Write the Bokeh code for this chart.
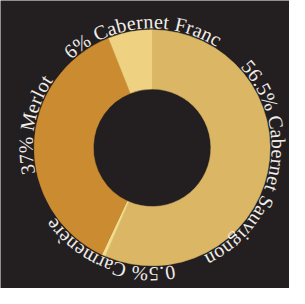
import math
from bokeh.plotting import figure
from bokeh.models import ColumnDataSource, Range1d
from bokeh.core.properties import value
from bokeh.embed import file_html
from bokeh.resources import INLINE

# ---- data ----
varieties = ["Cabernet Sauvignon", "Carmenère", "Merlot", "Cabernet Franc"]
shares = [56.5, 0.5, 37, 6]
labels = ["56.5% Cabernet Sauvignon", "0.5% Carmenère", "37% Merlot", "6% Cabernet Franc"]
colors = ["#dbb665", "#f3dd8c", "#cb8c31", "#efd281"]

# ---- layout / style ----
BG = "#231f20"
TEXT = "#f0ece8"
PW, PH = 289, 288
K = PW / 305.0                 # screen px per data unit
CX, CY = 160.0, 148.5          # centre in data units
R_OUT, R_IN = 124.5, 62
R_TEXT = 133.5
FONT_PX = 20
TRACK = 0.7
label_center_deg = [101, 202, 281, 355]

# Times / Liberation Serif advance widths (em/1000)
W = {" ": 250, "%": 833, ".": 250, "0": 500, "3": 500, "5": 500, "6": 500, "7": 500,
     "C": 667, "F": 556, "M": 889, "S": 556, "a": 444, "b": 500, "c": 444, "e": 444,
     "g": 500, "i": 278, "l": 278, "n": 500, "o": 500, "r": 333, "t": 278, "u": 500,
     "v": 500, "m": 778, "è": 444}

p = figure(width=PW, height=PH, output_backend="svg", toolbar_location=None,
           x_range=Range1d(0, 305), y_range=Range1d(0, 304), min_border=0)
p.axis.visible = False
p.grid.visible = False
p.outline_line_color = None
p.background_fill_color = BG
p.border_fill_color = BG

# wedges: clockwise from 12 o'clock
total = sum(shares)
starts, ends = [], []
acc = 0.0
for s in shares:
    a0 = acc / total * 2 * math.pi
    acc += s
    a1 = acc / total * 2 * math.pi
    starts.append(math.pi / 2 - a0)
    ends.append(math.pi / 2 - a1)

wsrc = ColumnDataSource(dict(x=[CX] * len(shares), y=[CY] * len(shares),
                             start=starts, end=ends, color=colors, name=varieties))
p.annular_wedge(x="x", y="y", inner_radius=R_IN, outer_radius=R_OUT,
                start_angle="start", end_angle="end", direction="clock",
                fill_color="color", line_color="color", line_width=0.5, source=wsrc)

# curved labels, one character per text item
xs, ys, chars, angs = [], [], [], []
r_px = R_TEXT * K
for lab, cdeg in zip(labels, label_center_deg):
    adv = [W.get(ch, 500) / 1000 * FONT_PX + TRACK for ch in lab]
    tot = sum(adv)
    s = math.radians(cdeg) * r_px - tot / 2
    for ch, a in zip(lab, adv):
        th = (s + a / 2) / r_px
        xs.append(CX + R_TEXT * math.sin(th))
        ys.append(CY + R_TEXT * math.cos(th))
        chars.append(ch)
        angs.append(-th)
        s += a

tsrc = ColumnDataSource(dict(x=xs, y=ys, text=chars, angle=angs))
p.text(x="x", y="y", text="text", angle="angle", source=tsrc,
       text_font=value("Liberation Serif"), text_font_size=value(f"{FONT_PX}px"),
       text_align="center", text_baseline="alphabetic", text_color=TEXT)

open("out.html", "w").write(file_html(p, INLINE))
